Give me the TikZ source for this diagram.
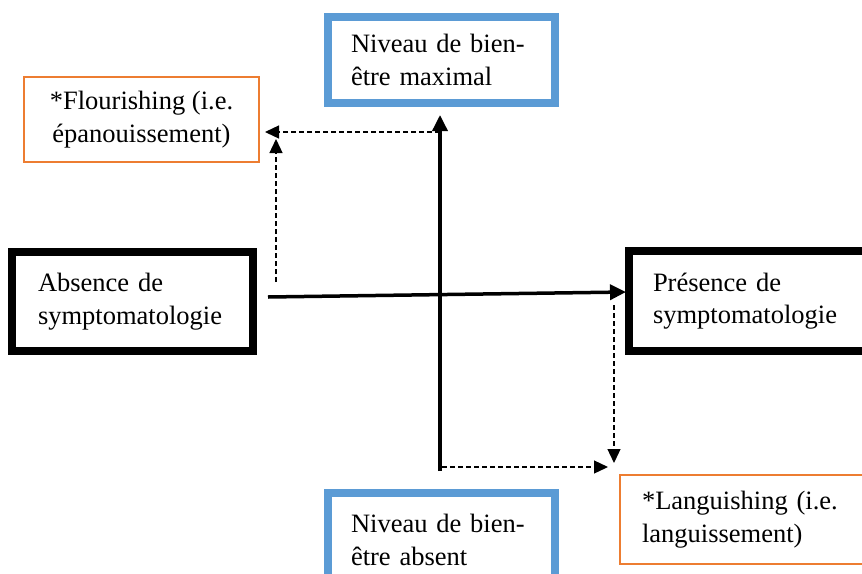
\documentclass[tikz,border=0pt]{standalone}
\usepackage{fontspec}
\setmainfont{Liberation Serif}
\usetikzlibrary{arrows.meta}
\definecolor{wblue}{RGB}{91,155,213}
\definecolor{worange}{RGB}{237,125,49}
\begin{document}
\begin{tikzpicture}[x=1pt,y=-1pt,
  every node/.style={font=\fontsize{26.5}{32.5}\selectfont, inner sep=0pt},
  bluebox/.style={draw=wblue, line width=8pt, minimum width=227pt},
  blackbox/.style={draw=black, line width=8pt},
  orangebox/.style={draw=worange, line width=2pt},
  axis/.style={line width=3.5pt, -{Triangle[length=16pt,width=15pt]}},
  dasharrow/.style={line width=1.3pt, dash pattern=on 5pt off 3pt, -{Triangle[length=14pt,width=13pt]}}
]
\useasboundingbox (0,0) rectangle (862,573);
\clip (0,0) rectangle (862,573);
\fill[white] (0,0) rectangle (862,573);

\node[bluebox, minimum height=86pt, text width=181pt, align=left] (top) at (441.5,60)
  {Niveau de bien-\\être maximal};
\node[bluebox, minimum height=94pt, text width=181pt, align=left] (bottom) at (441.5,540)
  {Niveau de bien-\\être absent};
\node[orangebox, minimum width=235pt, minimum height=85pt, align=center] (flour) at (141.5,119.5)
  {*Flourishing (i.e.\\épanouissement)};
\node[orangebox, minimum width=280pt, minimum height=89pt, text width=236pt, align=left] (lang) at (760,519.5)
  {*Languishing (i.e.\\languissement)};
\node[blackbox, minimum width=241pt, minimum height=99pt, text width=189pt, align=left] (abs) at (132.5,301.5)
  {Absence de\\symptomatologie};
\node[blackbox, minimum width=251pt, minimum height=100pt, text width=203pt, align=left] (pres) at (754.5,301)
  {Présence de\\symptomatologie};

\coordinate (hs) at (268,297);
\coordinate (he) at (626,292);
\coordinate (vs) at (440,471);
\coordinate (ve) at (440,115);
\draw[axis] (hs) -- (he);
\draw[axis] (vs) -- (ve);

\coordinate (f1s) at (440,132);
\coordinate (f1e) at (265,132);
\coordinate (f2s) at (276,282);
\coordinate (f2e) at (276,139);
\draw[dasharrow] (f1s) -- (f1e);
\draw[dasharrow] (f2s) -- (f2e);

\coordinate (l1s) at (614,305);
\coordinate (l1e) at (614,463);
\coordinate (l2s) at (442,467);
\coordinate (l2e) at (608,467);
\draw[dasharrow] (l1s) -- (l1e);
\draw[dasharrow] (l2s) -- (l2e);
\end{tikzpicture}
\end{document}
